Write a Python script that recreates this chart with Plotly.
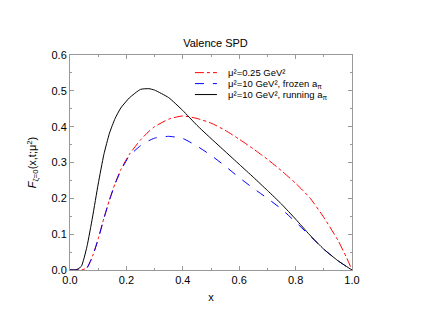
import plotly.graph_objects as go

x_vals = [0, 0.02, 0.04, 0.06, 0.08, 0.10, 0.12, 0.14, 0.16, 0.18, 0.21, 0.25, 0.28, 0.30, 0.35, 0.40,
          0.45, 0.50, 0.55, 0.60, 0.65, 0.70, 0.75, 0.80, 0.85, 0.90, 0.95, 0.98, 1.0]
red_vals = [0, 0.0, 0.0, 0.006, 0.039, 0.087, 0.144, 0.196, 0.242, 0.28, 0.322, 0.363, 0.387, 0.400, 0.421, 0.430,
            0.423, 0.410, 0.390, 0.365, 0.338, 0.309, 0.277, 0.242, 0.202, 0.147, 0.083, 0.036, 0.0]
blue_vals = [0, 0.0, 0.0, 0.006, 0.038, 0.086, 0.143, 0.195, 0.240, 0.277, 0.318, 0.347, 0.361, 0.368, 0.373, 0.367,
             0.346, 0.320, 0.290, 0.258, 0.228, 0.200, 0.170, 0.134, 0.096, 0.058, 0.026, 0.010, 0.0]
black_vals = [0, 0.0, 0.01, 0.065, 0.148, 0.240, 0.322, 0.382, 0.423, 0.452, 0.480, 0.504, 0.506, 0.502, 0.481, 0.445,
              0.404, 0.367, 0.331, 0.295, 0.259, 0.222, 0.184, 0.142, 0.098, 0.058, 0.026, 0.010, 0.0]

names = ["μ²=0.25 GeV²",
         "μ²=10 GeV², frozen a<sub>π</sub>",
         "μ²=10 GeV², running a<sub>π</sub>"]
colors = ["red", "blue", "black"]
dashes = ["dashdot", "dash", "solid"]
series = [red_vals, blue_vals, black_vals]

fig = go.Figure()
for name, vals, c, d in zip(names, series, colors, dashes):
    fig.add_trace(go.Scatter(x=x_vals, y=vals, mode="lines", name=name, line_shape="spline",
                             line=dict(color=c, width=1, dash=d, smoothing=0.5), showlegend=False))

# manual compact legend (inside plot, top right)
legend_rows = [0.918, 0.867, 0.816]
for name, c, d, ly in zip(names, colors, dashes, legend_rows):
    fig.add_shape(type="line", xref="paper", yref="paper", x0=0.443, x1=0.521, y0=ly, y1=ly,
                  line=dict(color=c, width=1, dash=d))
    fig.add_annotation(text=name, xref="paper", yref="paper", x=0.557, y=ly, xanchor="left",
                       yanchor="middle", showarrow=False, borderpad=0,
                       font=dict(size=9.5, color="black"))

axis_common = dict(showline=True, linecolor="#999999", linewidth=1, mirror="allticks",
                   ticks="inside", ticklen=4, tickcolor="#999999", showgrid=False, zeroline=False,
                   tickfont=dict(size=11, color="black"))
fig.update_layout(
    width=415, height=319,
    margin=dict(l=62, r=71, t=47, b=57),
    paper_bgcolor="white", plot_bgcolor="white",
    font=dict(family="Liberation Sans, Arial, sans-serif", size=11, color="black"),
    title=dict(text="Valence SPD", x=0.5, xanchor="center", y=1 - 35 / 319, yanchor="middle",
               font=dict(size=11)),
    xaxis=dict(range=[0, 1], dtick=0.2, tickformat=".1f",
               minor=dict(ticks="inside", ticklen=2, dtick=0.1, tickcolor="#999999"),
               title=dict(text="x", standoff=8, font=dict(size=11)), **axis_common),
    yaxis=dict(range=[0, 0.6], dtick=0.1, tickformat=".1f",
               minor=dict(ticks="inside", ticklen=2, dtick=0.05, tickcolor="#999999"),
               title=dict(text="<i>F</i><sub>ζ=0</sub>(x,t;μ<sup>2</sup>)", standoff=12,
                          font=dict(size=11)), **axis_common),
    showlegend=False,
)

fig.write_html("out.html")
